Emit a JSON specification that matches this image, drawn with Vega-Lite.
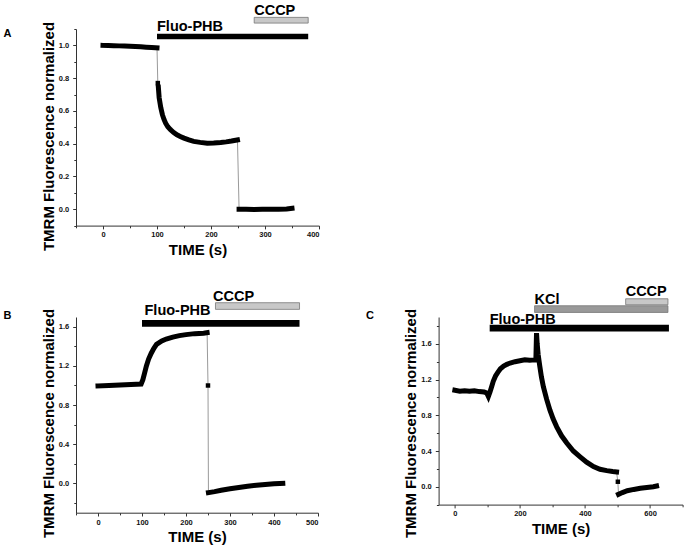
{
  "$schema": "https://vega.github.io/schema/vega-lite/v6.json",
  "padding": {"left": 3, "top": 2, "right": 0, "bottom": 0},
  "config": {
    "font": "Liberation Sans",
    "view": {"stroke": null},
    "axis": {
      "grid": false,
      "domainColor": "#333333",
      "domainWidth": 1,
      "tickColor": "#333333",
      "tickWidth": 1,
      "tickCount": 100,
      "labelOverlap": false,
      "labelFont": "Liberation Sans",
      "labelFontWeight": "bold",
      "labelFontSize": 7.5,
      "labelColor": "#111111",
      "titleFont": "Liberation Sans",
      "titleFontWeight": "bold",
      "titleFontSize": 15,
      "titleColor": "#000000"
    },
    "axisX": {"labelPadding": 2, "titlePadding": 4},
    "axisY": {"labelPadding": 4, "titlePadding": 2},
    "title": {"font": "Liberation Sans", "fontSize": 11, "fontWeight": "bold", "color": "#000000"}
  },
  "datasets": {
    "A": [
      {"t": 0, "v": 1.0, "seg": "a1"}, {"t": 10, "v": 0.999, "seg": "a1"}, {"t": 20, "v": 0.998, "seg": "a1"}, {"t": 30, "v": 0.997, "seg": "a1"}, {"t": 40, "v": 0.996, "seg": "a1"}, {"t": 50, "v": 0.995, "seg": "a1"}, {"t": 60, "v": 0.993, "seg": "a1"}, {"t": 70, "v": 0.991, "seg": "a1"}, {"t": 80, "v": 0.989, "seg": "a1"}, {"t": 90, "v": 0.987, "seg": "a1"}, {"t": 100, "v": 0.985, "seg": "a1"},
      {"t": 101.5, "v": 0.77, "seg": "iso"},
      {"t": 102.5, "v": 0.745, "seg": "a2"}, {"t": 104, "v": 0.68, "seg": "a2"}, {"t": 107, "v": 0.62, "seg": "a2"}, {"t": 110, "v": 0.577, "seg": "a2"}, {"t": 113, "v": 0.548, "seg": "a2"}, {"t": 116, "v": 0.525, "seg": "a2"}, {"t": 120, "v": 0.503, "seg": "a2"}, {"t": 125, "v": 0.485, "seg": "a2"}, {"t": 131, "v": 0.468, "seg": "a2"}, {"t": 137, "v": 0.454, "seg": "a2"}, {"t": 144, "v": 0.443, "seg": "a2"}, {"t": 150, "v": 0.434, "seg": "a2"}, {"t": 159, "v": 0.423, "seg": "a2"}, {"t": 168, "v": 0.414, "seg": "a2"}, {"t": 180, "v": 0.408, "seg": "a2"}, {"t": 193, "v": 0.403, "seg": "a2"}, {"t": 205, "v": 0.404, "seg": "a2"}, {"t": 218, "v": 0.407, "seg": "a2"}, {"t": 228, "v": 0.411, "seg": "a2"}, {"t": 238, "v": 0.416, "seg": "a2"}, {"t": 249, "v": 0.423, "seg": "a2"},
      {"t": 252, "v": 0.0, "seg": "a3"}, {"t": 265, "v": 0.0, "seg": "a3"}, {"t": 280, "v": -0.002, "seg": "a3"}, {"t": 295, "v": 0.0, "seg": "a3"}, {"t": 310, "v": 0.0, "seg": "a3"}, {"t": 325, "v": 0.0, "seg": "a3"}, {"t": 340, "v": 0.002, "seg": "a3"}, {"t": 350, "v": 0.006, "seg": "a3"}
    ],
    "B": [
      {"t": 0, "v": 0.995, "seg": "b1"}, {"t": 25, "v": 1.0, "seg": "b1"}, {"t": 50, "v": 1.005, "seg": "b1"}, {"t": 75, "v": 1.01, "seg": "b1"}, {"t": 98, "v": 1.015, "seg": "b1"}, {"t": 102, "v": 1.06, "seg": "b1"}, {"t": 106, "v": 1.13, "seg": "b1"}, {"t": 110, "v": 1.2, "seg": "b1"}, {"t": 115, "v": 1.27, "seg": "b1"}, {"t": 121, "v": 1.33, "seg": "b1"}, {"t": 127, "v": 1.38, "seg": "b1"}, {"t": 133, "v": 1.42, "seg": "b1"}, {"t": 145, "v": 1.455, "seg": "b1"}, {"t": 155, "v": 1.475, "seg": "b1"}, {"t": 170, "v": 1.495, "seg": "b1"}, {"t": 185, "v": 1.51, "seg": "b1"}, {"t": 200, "v": 1.52, "seg": "b1"}, {"t": 220, "v": 1.53, "seg": "b1"}, {"t": 240, "v": 1.535, "seg": "b1"}, {"t": 248, "v": 1.54, "seg": "b1"},
      {"t": 250, "v": 1.0, "seg": "iso"},
      {"t": 251, "v": -0.095, "seg": "b3"}, {"t": 265, "v": -0.085, "seg": "b3"}, {"t": 280, "v": -0.07, "seg": "b3"}, {"t": 300, "v": -0.055, "seg": "b3"}, {"t": 320, "v": -0.042, "seg": "b3"}, {"t": 340, "v": -0.03, "seg": "b3"}, {"t": 360, "v": -0.02, "seg": "b3"}, {"t": 380, "v": -0.012, "seg": "b3"}, {"t": 400, "v": -0.005, "seg": "b3"}, {"t": 420, "v": 0.0, "seg": "b3"}
    ],
    "C": [
      {"t": 0, "v": 1.08, "seg": "c1"}, {"t": 15, "v": 1.07, "seg": "c1"}, {"t": 30, "v": 1.075, "seg": "c1"}, {"t": 45, "v": 1.07, "seg": "c1"}, {"t": 60, "v": 1.075, "seg": "c1"}, {"t": 75, "v": 1.065, "seg": "c1"}, {"t": 90, "v": 1.06, "seg": "c1"}, {"t": 98, "v": 1.05, "seg": "c1"}, {"t": 103, "v": 1.01, "seg": "c1"}, {"t": 108, "v": 1.06, "seg": "c1"}, {"t": 113, "v": 1.12, "seg": "c1"}, {"t": 118, "v": 1.18, "seg": "c1"}, {"t": 125, "v": 1.24, "seg": "c1"}, {"t": 132, "v": 1.28, "seg": "c1"}, {"t": 140, "v": 1.32, "seg": "c1"}, {"t": 150, "v": 1.35, "seg": "c1"}, {"t": 160, "v": 1.37, "seg": "c1"}, {"t": 170, "v": 1.385, "seg": "c1"}, {"t": 185, "v": 1.4, "seg": "c1"}, {"t": 200, "v": 1.41, "seg": "c1"}, {"t": 215, "v": 1.42, "seg": "c1"}, {"t": 230, "v": 1.415, "seg": "c1"}, {"t": 245, "v": 1.42, "seg": "c1"}, {"t": 249, "v": 1.42, "seg": "c1"}, {"t": 251, "v": 1.72, "seg": "c1"}, {"t": 253, "v": 1.6, "seg": "c1"}, {"t": 256, "v": 1.48, "seg": "c1"}, {"t": 261, "v": 1.35, "seg": "c1"}, {"t": 266, "v": 1.23, "seg": "c1"}, {"t": 272, "v": 1.12, "seg": "c1"}, {"t": 282, "v": 0.98, "seg": "c1"}, {"t": 292, "v": 0.86, "seg": "c1"}, {"t": 302, "v": 0.76, "seg": "c1"}, {"t": 313, "v": 0.67, "seg": "c1"}, {"t": 328, "v": 0.57, "seg": "c1"}, {"t": 344, "v": 0.49, "seg": "c1"}, {"t": 364, "v": 0.4, "seg": "c1"}, {"t": 385, "v": 0.335, "seg": "c1"}, {"t": 405, "v": 0.275, "seg": "c1"}, {"t": 426, "v": 0.225, "seg": "c1"}, {"t": 446, "v": 0.195, "seg": "c1"}, {"t": 467, "v": 0.18, "seg": "c1"}, {"t": 485, "v": 0.17, "seg": "c1"}, {"t": 497, "v": 0.165, "seg": "c1"},
      {"t": 501, "v": 0.056, "seg": "iso"},
      {"t": 503, "v": -0.085, "seg": "c3"}, {"t": 515, "v": -0.065, "seg": "c3"}, {"t": 530, "v": -0.045, "seg": "c3"}, {"t": 550, "v": -0.03, "seg": "c3"}, {"t": 570, "v": -0.018, "seg": "c3"}, {"t": 590, "v": -0.008, "seg": "c3"}, {"t": 610, "v": 0.0, "seg": "c3"}, {"t": 620, "v": 0.008, "seg": "c3"}
    ],
    "bars": [
      {"panel": "A", "treatment": "Fluo-PHB", "start": 100, "end": 380},
      {"panel": "A", "treatment": "CCCP", "start": 280, "end": 380},
      {"panel": "B", "treatment": "Fluo-PHB", "start": 100, "end": 458},
      {"panel": "B", "treatment": "CCCP", "start": 267, "end": 458},
      {"panel": "C", "treatment": "Fluo-PHB", "start": 107, "end": 658},
      {"panel": "C", "treatment": "KCl", "start": 245, "end": 655},
      {"panel": "C", "treatment": "CCCP", "start": 525, "end": 655}
    ]
  },
  "bounds": "flush",
  "spacing": 91,
  "vconcat": [
    {
      "width": 243,
      "height": 196.6,
      "title": {"text": "A", "orient": "left", "anchor": "end", "angle": 0, "align": "right", "baseline": "top", "offset": 22, "dy": -1.5, "frame": "group"},
      "layer": [
        {
          "data": {"name": "A"},
          "mark": {"type": "line", "color": "#9a9a9a", "strokeWidth": 1},
          "encoding": {
            "x": {"field": "t", "type": "quantitative", "scale": {"domain": [-50, 400], "nice": false, "zero": false},
                  "axis": {"title": "TIME (s)", "values": [-50, 0, 50, 100, 150, 200, 250, 300, 350, 400], "format": "d",
                           "labelExpr": "datum.value % 100 == 0 ? datum.label : ''",
                           "tickSize": {"condition": {"test": "datum.value % 100 == 0", "value": 3.3}, "value": 2.2}}},
            "y": {"field": "v", "type": "quantitative", "scale": {"domain": [-0.1, 1.1], "nice": false, "zero": false},
                  "axis": {"title": "TMRM Fluorescence normalized", "titleY": 107, "values": [-0.1, 0, 0.1, 0.2, 0.3, 0.4, 0.5, 0.6, 0.7, 0.8, 0.9, 1.0, 1.1], "format": ".1f",
                           "labelExpr": "abs(round(datum.value*10)) % 2 == 0 ? datum.label : ''",
                           "tickSize": {"condition": {"test": "abs(round(datum.value*10)) % 2 == 0", "value": 3.3}, "value": 2.2}}}
          }
        },
        {
          "data": {"name": "A"},
          "transform": [{"filter": "datum.seg !== 'iso'"}],
          "mark": {"type": "line", "color": "#000000", "strokeWidth": 5, "strokeCap": "square"},
          "encoding": {
            "x": {"field": "t", "type": "quantitative"},
            "y": {"field": "v", "type": "quantitative"},
            "detail": {"field": "seg"}
          }
        },
        {
          "data": {"name": "A"},
          "transform": [{"filter": "datum.seg === 'iso'"}],
          "mark": {"type": "point", "shape": "square", "filled": true, "color": "#000000", "opacity": 1, "size": 20},
          "encoding": {
            "x": {"field": "t", "type": "quantitative"},
            "y": {"field": "v", "type": "quantitative"}
          }
        },
        {
          "data": {"name": "bars"},
          "transform": [{"filter": "datum.panel === 'A' && datum.treatment === 'Fluo-PHB'"}],
          "layer": [
            {"mark": {"type": "rect", "color": "#000000"},
             "encoding": {"x": {"field": "start", "type": "quantitative"}, "x2": {"field": "end"}, "y": {"datum": 1.038, "type": "quantitative"}, "y2": {"datum": 1.071}}},
            {"mark": {"type": "text", "align": "left", "baseline": "alphabetic", "fontSize": 14.5, "fontWeight": "bold", "color": "#000000"},
             "encoding": {"x": {"field": "start", "type": "quantitative"}, "y": {"datum": 1.086, "type": "quantitative"}, "text": {"field": "treatment"}}}
          ]
        },
        {
          "data": {"name": "bars"},
          "transform": [{"filter": "datum.panel === 'A' && datum.treatment === 'CCCP'"}],
          "layer": [
            {"mark": {"type": "rect", "color": "#c8c8c8", "stroke": "#777777", "strokeWidth": 0.8},
             "encoding": {"x": {"field": "start", "type": "quantitative"}, "x2": {"field": "end"}, "y": {"datum": 1.136, "type": "quantitative"}, "y2": {"datum": 1.171}}},
            {"mark": {"type": "text", "align": "left", "baseline": "alphabetic", "fontSize": 14.5, "fontWeight": "bold", "color": "#000000"},
             "encoding": {"x": {"field": "start", "type": "quantitative"}, "y": {"datum": 1.188, "type": "quantitative"}, "text": {"field": "treatment"}}}
          ]
        }
      ]
    },
    {
      "bounds": "flush",
      "spacing": 120.6,
      "hconcat": [
        {
          "width": 242,
          "height": 195.7,
          "title": {"text": "B", "orient": "left", "anchor": "end", "angle": 0, "align": "right", "baseline": "top", "offset": 22, "dy": -6.6, "frame": "group"},
          "layer": [
            {
              "data": {"name": "B"},
              "mark": {"type": "line", "color": "#9a9a9a", "strokeWidth": 1},
              "encoding": {
                "x": {"field": "t", "type": "quantitative", "scale": {"domain": [-50, 500], "nice": false, "zero": false},
                      "axis": {"title": "TIME (s)", "values": [-50, 0, 50, 100, 150, 200, 250, 300, 350, 400, 450, 500], "format": "d",
                               "labelExpr": "datum.value % 100 == 0 ? datum.label : ''",
                               "tickSize": {"condition": {"test": "datum.value % 100 == 0", "value": 3.3}, "value": 2.2}}},
                "y": {"field": "v", "type": "quantitative", "scale": {"domain": [-0.3, 1.7], "nice": false, "zero": false},
                      "axis": {"title": "TMRM Fluorescence normalized", "titleY": 106, "values": [-0.2, 0, 0.2, 0.4, 0.6, 0.8, 1.0, 1.2, 1.4, 1.6], "format": ".1f",
                               "labelExpr": "abs(round(datum.value*10)) % 4 == 0 ? datum.label : ''",
                               "tickSize": {"condition": {"test": "abs(round(datum.value*10)) % 4 == 0", "value": 3.3}, "value": 2.2}}}
              }
            },
            {
              "data": {"name": "B"},
              "transform": [{"filter": "datum.seg !== 'iso'"}],
              "mark": {"type": "line", "color": "#000000", "strokeWidth": 5, "strokeCap": "square"},
              "encoding": {
                "x": {"field": "t", "type": "quantitative"},
                "y": {"field": "v", "type": "quantitative"},
                "detail": {"field": "seg"}
              }
            },
            {
              "data": {"name": "B"},
              "transform": [{"filter": "datum.seg === 'iso'"}],
              "mark": {"type": "point", "shape": "square", "filled": true, "color": "#000000", "opacity": 1, "size": 20},
              "encoding": {
                "x": {"field": "t", "type": "quantitative"},
                "y": {"field": "v", "type": "quantitative"}
              }
            },
            {
              "data": {"name": "bars"},
              "transform": [{"filter": "datum.panel === 'B' && datum.treatment === 'Fluo-PHB'"}],
              "layer": [
                {"mark": {"type": "rect", "color": "#000000"},
                 "encoding": {"x": {"field": "start", "type": "quantitative"}, "x2": {"field": "end"}, "y": {"datum": 1.6, "type": "quantitative"}, "y2": {"datum": 1.669}}},
                {"mark": {"type": "text", "align": "left", "baseline": "alphabetic", "fontSize": 14.5, "fontWeight": "bold", "color": "#000000", "dx": 2.5},
                 "encoding": {"x": {"field": "start", "type": "quantitative"}, "y": {"datum": 1.716, "type": "quantitative"}, "text": {"field": "treatment"}}}
              ]
            },
            {
              "data": {"name": "bars"},
              "transform": [{"filter": "datum.panel === 'B' && datum.treatment === 'CCCP'"}],
              "layer": [
                {"mark": {"type": "rect", "color": "#c8c8c8", "stroke": "#777777", "strokeWidth": 0.8},
                 "encoding": {"x": {"field": "start", "type": "quantitative"}, "x2": {"field": "end"}, "y": {"datum": 1.778, "type": "quantitative"}, "y2": {"datum": 1.846}}},
                {"mark": {"type": "text", "align": "left", "baseline": "alphabetic", "fontSize": 14.5, "fontWeight": "bold", "color": "#000000", "dx": -2.5},
                 "encoding": {"x": {"field": "start", "type": "quantitative"}, "y": {"datum": 1.863, "type": "quantitative"}, "text": {"field": "treatment"}}}
              ]
            }
          ]
        },
        {
          "width": 244,
          "height": 187.6,
          "title": {"text": "C", "orient": "left", "anchor": "end", "angle": 0, "align": "right", "baseline": "top", "offset": 22, "dy": -7.3, "frame": "group"},
          "layer": [
            {
              "data": {"name": "C"},
              "mark": {"type": "line", "color": "#9a9a9a", "strokeWidth": 1},
              "encoding": {
                "x": {"field": "t", "type": "quantitative", "scale": {"domain": [-50, 700], "nice": false, "zero": false},
                      "axis": {"title": "TIME (s)", "values": [0, 100, 200, 300, 400, 500, 600, 700], "format": "d",
                               "labelExpr": "datum.value % 200 == 0 && datum.value < 700 ? datum.label : ''",
                               "tickSize": {"condition": {"test": "datum.value % 200 == 0", "value": 3.3}, "value": 2.2}}},
                "y": {"field": "v", "type": "quantitative", "scale": {"domain": [-0.2, 1.9], "nice": false, "zero": false},
                      "axis": {"title": "TMRM Fluorescence normalized", "titleY": 106, "values": [-0.2, 0, 0.2, 0.4, 0.6, 0.8, 1.0, 1.2, 1.4, 1.6, 1.8], "format": ".1f",
                               "labelExpr": "abs(round(datum.value*10)) % 4 == 0 ? datum.label : ''",
                               "tickSize": {"condition": {"test": "abs(round(datum.value*10)) % 4 == 0", "value": 3.3}, "value": 2.2}}}
              }
            },
            {
              "data": {"name": "C"},
              "transform": [{"filter": "datum.seg !== 'iso'"}],
              "mark": {"type": "line", "color": "#000000", "strokeWidth": 5, "strokeCap": "square"},
              "encoding": {
                "x": {"field": "t", "type": "quantitative"},
                "y": {"field": "v", "type": "quantitative"},
                "detail": {"field": "seg"}
              }
            },
            {
              "data": {"name": "C"},
              "transform": [{"filter": "datum.seg === 'iso'"}],
              "mark": {"type": "point", "shape": "square", "filled": true, "color": "#000000", "opacity": 1, "size": 20},
              "encoding": {
                "x": {"field": "t", "type": "quantitative"},
                "y": {"field": "v", "type": "quantitative"}
              }
            },
            {
              "data": {"name": "bars"},
              "transform": [{"filter": "datum.panel === 'C' && datum.treatment === 'Fluo-PHB'"}],
              "layer": [
                {"mark": {"type": "rect", "color": "#000000"},
                 "encoding": {"x": {"field": "start", "type": "quantitative"}, "x2": {"field": "end"}, "y": {"datum": 1.738, "type": "quantitative"}, "y2": {"datum": 1.813}}},
                {"mark": {"type": "text", "align": "left", "baseline": "alphabetic", "fontSize": 14.5, "fontWeight": "bold", "color": "#000000"},
                 "encoding": {"x": {"field": "start", "type": "quantitative"}, "y": {"datum": 1.822, "type": "quantitative"}, "text": {"field": "treatment"}}}
              ]
            },
            {
              "data": {"name": "bars"},
              "transform": [{"filter": "datum.panel === 'C' && datum.treatment === 'KCl'"}],
              "layer": [
                {"mark": {"type": "rect", "color": "#999999", "stroke": "#777777", "strokeWidth": 0.8},
                 "encoding": {"x": {"field": "start", "type": "quantitative"}, "x2": {"field": "end"}, "y": {"datum": 1.951, "type": "quantitative"}, "y2": {"datum": 2.026}}},
                {"mark": {"type": "text", "align": "left", "baseline": "alphabetic", "fontSize": 14.5, "fontWeight": "bold", "color": "#000000"},
                 "encoding": {"x": {"field": "start", "type": "quantitative"}, "y": {"datum": 2.045, "type": "quantitative"}, "text": {"field": "treatment"}}}
              ]
            },
            {
              "data": {"name": "bars"},
              "transform": [{"filter": "datum.panel === 'C' && datum.treatment === 'CCCP'"}],
              "layer": [
                {"mark": {"type": "rect", "color": "#c8c8c8", "stroke": "#777777", "strokeWidth": 0.8},
                 "encoding": {"x": {"field": "start", "type": "quantitative"}, "x2": {"field": "end"}, "y": {"datum": 2.037, "type": "quantitative"}, "y2": {"datum": 2.104}}},
                {"mark": {"type": "text", "align": "left", "baseline": "alphabetic", "fontSize": 14.5, "fontWeight": "bold", "color": "#000000"},
                 "encoding": {"x": {"field": "start", "type": "quantitative"}, "y": {"datum": 2.138, "type": "quantitative"}, "text": {"field": "treatment"}}}
              ]
            }
          ]
        }
      ]
    }
  ]
}
